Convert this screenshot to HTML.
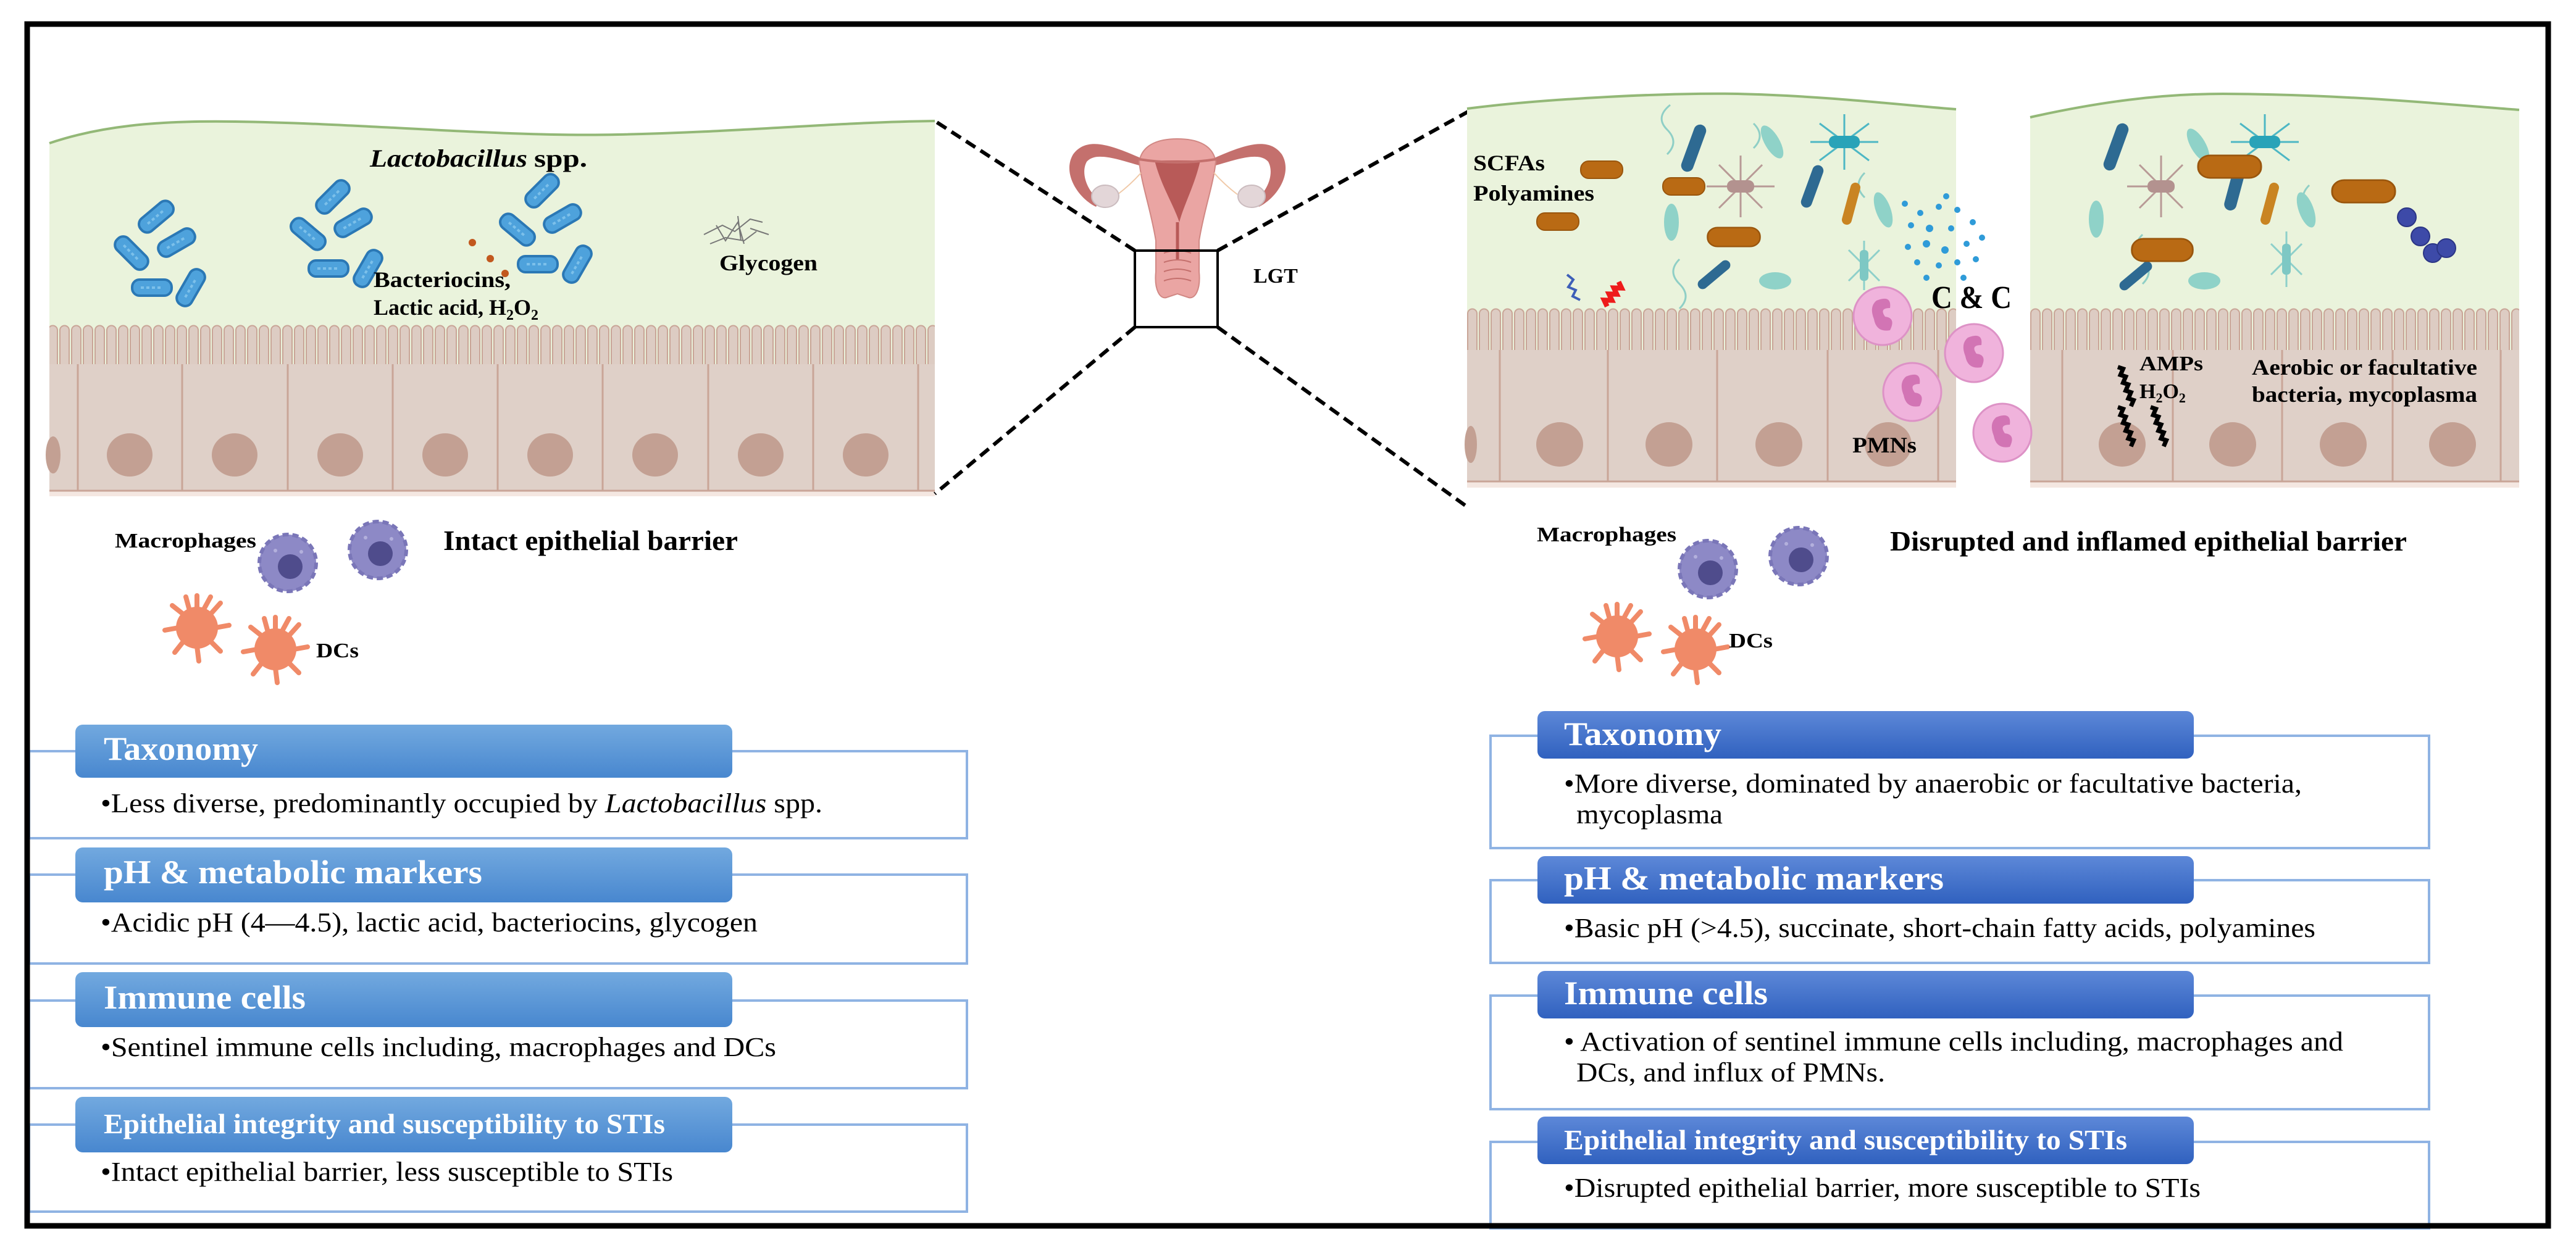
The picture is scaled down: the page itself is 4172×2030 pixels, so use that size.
<!DOCTYPE html>
<html><head><meta charset="utf-8"><style>
html,body{margin:0;padding:0;background:#fff}
svg{display:block}
text{font-family:"Liberation Serif",serif}
</style></head><body>
<svg width="4172" height="2030" viewBox="0 0 4172 2030" xmlns="http://www.w3.org/2000/svg">
<defs>
<pattern id="vil" patternUnits="userSpaceOnUse" x="0" y="526" width="19" height="64">
<rect width="19" height="64" fill="#eaf3dc"/>
<path d="M2,66 V9 a7.5,7.5 0 0 1 15,0 V66" fill="#ddccc3" stroke="#c9a597" stroke-width="2"/>
</pattern>
<pattern id="vil2" patternUnits="userSpaceOnUse" x="0" y="499" width="19" height="68">
<rect width="19" height="68" fill="#eaf3dc"/>
<path d="M2,70 V9 a7.5,7.5 0 0 1 15,0 V70" fill="#ddccc3" stroke="#c9a597" stroke-width="2"/>
</pattern>
<linearGradient id="hl" x1="0" y1="0" x2="0" y2="1"><stop offset="0" stop-color="#72a9df"/><stop offset="1" stop-color="#4887cf"/></linearGradient>
<linearGradient id="hr" x1="0" y1="0" x2="0" y2="1"><stop offset="0" stop-color="#5d88d8"/><stop offset="1" stop-color="#3061bf"/></linearGradient>
<g id="lac"><rect x="-32" y="-13" width="64" height="26" rx="12" fill="#4ea2dc" stroke="#2b78b5" stroke-width="4"/><path d="M-18,0 h36" stroke="#7cc0ea" stroke-width="4" stroke-dasharray="5 4"/></g>
<g id="mac"><circle r="46" fill="#8d89c6" stroke="#7a76b8" stroke-width="6" stroke-dasharray="10 6"/><circle cx="4" cy="6" r="20" fill="#4f4c8c"/><circle cx="-20" cy="-20" r="3" fill="#b3b0dc"/><circle cx="22" cy="-18" r="3" fill="#b3b0dc"/></g>
<g id="dc"><g stroke="#f08a68" stroke-width="8" stroke-linecap="round" fill="none">
<path d="M0,-30 L0,-52 M21,-21 L38,-40 M30,0 L52,-4 M21,21 L38,38 M0,30 L3,54 M-21,21 L-36,40 M-30,0 L-52,4 M-21,-21 L-40,-36 M10,-28 L22,-50 M-12,-28 L-18,-50"/></g><circle r="34" fill="#f08a68"/></g>
<g id="pmn"><circle r="47" fill="#f0b3dc" stroke="#dd92c6" stroke-width="3"/><path d="M-10,-25 q25,-10 22,12 q-18,0 -8,14 q18,2 8,22 q-22,4 -26,-18 q-8,-20 4,-30z" fill="#d274b4"/></g>
<g id="oc"><rect x="-34" y="-14" width="68" height="28" rx="13" fill="#b96a14" stroke="#9a560d" stroke-width="2"/></g>
<g id="rod"><rect x="-10" y="-40" width="20" height="80" rx="10" fill="#2e6a92"/></g>
</defs>

<!-- frame -->
<rect x="44" y="39" width="4083" height="1947" fill="#fff" stroke="#000" stroke-width="9"/>

<!-- LEFT TISSUE -->
<path d="M80,232 C160,205 250,195 380,197 C600,200 800,222 1000,218 C1200,214 1350,198 1514,196 L1514,560 L80,560 Z" fill="#eaf3dc"/>
<path d="M80,232 C160,205 250,195 380,197 C600,200 800,222 1000,218 C1200,214 1350,198 1514,196" fill="none" stroke="#93b877" stroke-width="4"/>
<rect x="80" y="526" width="1434" height="66" fill="url(#vil)"/>
<rect x="80" y="590" width="1434" height="210" fill="#dfd0c8"/>
<rect x="80" y="796" width="1434" height="8" fill="#f4e7e1"/>
<g stroke="#c9a597" stroke-width="3" fill="none">
<path d="M80,795 H1514"/>
<path d="M126,590 V795 M295,590 V795 M466,590 V795 M636,590 V795 M806,590 V795 M976,590 V795 M1147,590 V795 M1317,590 V795 M1487,590 V795"/>
</g>
<g fill="#c3a093">
<ellipse cx="210" cy="737" rx="37" ry="35"/><ellipse cx="380" cy="737" rx="37" ry="35"/><ellipse cx="551" cy="737" rx="37" ry="35"/><ellipse cx="721" cy="737" rx="37" ry="35"/><ellipse cx="891" cy="737" rx="37" ry="35"/><ellipse cx="1061" cy="737" rx="37" ry="35"/><ellipse cx="1232" cy="737" rx="37" ry="35"/><ellipse cx="1402" cy="737" rx="37" ry="35"/><ellipse cx="86" cy="737" rx="12" ry="30"/>
</g>
<use href="#lac" transform="translate(253,351) rotate(-40)"/>
<use href="#lac" transform="translate(286,393) rotate(-30)"/>
<use href="#lac" transform="translate(213,410) rotate(45)"/>
<use href="#lac" transform="translate(246,466)"/>
<use href="#lac" transform="translate(309,466) rotate(-60)"/>
<use href="#lac" transform="translate(539,319) rotate(-45)"/>
<use href="#lac" transform="translate(572,361) rotate(-30)"/>
<use href="#lac" transform="translate(499,379) rotate(40)"/>
<use href="#lac" transform="translate(532,435)"/>
<use href="#lac" transform="translate(596,435) rotate(-60)"/>
<use href="#lac" transform="translate(878,309) rotate(-45)"/>
<use href="#lac" transform="translate(911,354) rotate(-30)"/>
<use href="#lac" transform="translate(838,372) rotate(40)"/>
<use href="#lac" transform="translate(871,428)"/>
<use href="#lac" transform="translate(935,428) rotate(-60)"/>
<g fill="#c2581e"><circle cx="765" cy="393" r="6"/><circle cx="794" cy="419" r="6"/><circle cx="818" cy="443" r="6"/></g>
<g stroke="#777" stroke-width="2" fill="none"><path d="M1140,380 l30,-15 l20,10 l25,-20 l20,5 M1150,395 l25,-10 l30,5 l20,-15 M1160,365 l15,25 l20,-30 l10,35 M1195,350 l5,40 M1215,370 l30,10"/></g>
<text x="599" y="270" font-size="40" font-style="italic" font-weight="bold" textLength="255" lengthAdjust="spacingAndGlyphs">Lactobacillus</text>
<text x="865" y="270" font-size="40" font-weight="bold" textLength="86" lengthAdjust="spacingAndGlyphs">spp.</text>
<text x="605" y="465" font-size="36" font-weight="bold" textLength="222" lengthAdjust="spacingAndGlyphs">Bacteriocins,</text>
<text x="605" y="510" font-size="36" font-weight="bold">Lactic acid, H<tspan font-size="24" dy="8">2</tspan><tspan dy="-8">O</tspan><tspan font-size="24" dy="8">2</tspan></text>
<text x="1165" y="438" font-size="36" font-weight="bold" textLength="159" lengthAdjust="spacingAndGlyphs">Glycogen</text>

<!-- left immune -->
<text x="186" y="887" font-size="34" font-weight="bold" textLength="229" lengthAdjust="spacingAndGlyphs">Macrophages</text>
<use href="#mac" transform="translate(466,912)"/>
<use href="#mac" transform="translate(612,891)"/>
<text x="718" y="891" font-size="46" font-weight="bold" textLength="477" lengthAdjust="spacingAndGlyphs">Intact epithelial barrier</text>
<use href="#dc" transform="translate(319,1017)"/>
<use href="#dc" transform="translate(446,1052)"/>
<text x="512" y="1065" font-size="34" font-weight="bold" textLength="69" lengthAdjust="spacingAndGlyphs">DCs</text>

<!-- uterus -->
<g>
<path d="M1852,258 C1800,235 1760,220 1738,250 C1720,280 1745,320 1775,335 L1782,325 C1760,310 1750,280 1760,262 C1775,245 1810,258 1852,270 Z" fill="#c4706d"/>
<path d="M1962,258 C2014,235 2054,220 2076,250 C2094,280 2069,320 2039,335 L2032,325 C2054,310 2064,280 2054,262 C2039,245 2004,258 1962,270 Z" fill="#c4706d"/>
<path d="M1845,262 C1850,232 1880,225 1907,225 C1934,225 1964,232 1969,262 C1965,300 1950,340 1942,390 L1942,440 C1945,470 1935,485 1925,482 L1907,476 L1889,482 C1879,485 1869,470 1872,440 L1872,390 C1864,340 1849,300 1845,262 Z" fill="#eaa5a3" stroke="#d18884" stroke-width="2"/>
<path d="M1870,260 L1944,260 C1935,300 1918,330 1910,360 C1900,330 1880,300 1870,260 Z" fill="#b85a58"/>
<path d="M1845,258 Q1907,268 1969,258" stroke="#c4706d" stroke-width="4" fill="none"/>
<path d="M1907,360 V420" stroke="#b85a58" stroke-width="5"/>
<path d="M1885,410 Q1907,402 1929,410 M1885,425 Q1907,417 1929,425 M1885,440 Q1907,432 1929,440 M1885,455 Q1907,447 1929,455" stroke="#c4706d" stroke-width="2" fill="none"/>
<path d="M1848,280 Q1830,300 1810,315 M1966,280 Q1984,300 2004,315" stroke="#f0c9a8" stroke-width="2" fill="none"/>
<ellipse cx="1790" cy="318" rx="22" ry="18" fill="#e3d6d8" stroke="#cbbcbf" stroke-width="2"/>
<ellipse cx="2027" cy="318" rx="22" ry="18" fill="#e3d6d8" stroke="#cbbcbf" stroke-width="2"/>
</g>
<rect x="1838" y="406" width="134" height="124" fill="none" stroke="#000" stroke-width="4"/>
<text x="2030" y="458" font-size="34" font-weight="bold">LGT</text>
<g stroke="#000" stroke-width="6" stroke-dasharray="18 10" fill="none">
<path d="M1838,406 L1514,196"/>
<path d="M1838,530 L1514,800"/>
<path d="M1972,406 L2381,179"/>
<path d="M1972,530 L2376,821"/>
</g>

<!-- RIGHT TISSUE A -->
<path d="M2376,176 C2500,160 2700,150 2814,152 C2950,155 3080,170 3168,177 L3168,520 L2376,520 Z" fill="#eaf3dc"/>
<path d="M2376,176 C2500,160 2700,150 2814,152 C2950,155 3080,170 3168,177" fill="none" stroke="#93b877" stroke-width="4"/>
<rect x="2376" y="499" width="792" height="70" fill="url(#vil2)"/>
<rect x="2376" y="567" width="792" height="216" fill="#dfd0c8"/>
<rect x="2376" y="780" width="792" height="10" fill="#f4e7e1"/>
<g stroke="#c9a597" stroke-width="3" fill="none"><path d="M2376,780 H3168 M2429,567 V780 M2604,567 V780 M2781,567 V780 M2960,567 V780 M3139,567 V780"/></g>
<g fill="#c3a093"><ellipse cx="2526" cy="720" rx="38" ry="36"/><ellipse cx="2703" cy="720" rx="38" ry="36"/><ellipse cx="2881" cy="720" rx="38" ry="36"/><ellipse cx="3058" cy="720" rx="38" ry="36"/><ellipse cx="2382" cy="720" rx="10" ry="30"/></g>
<!-- RIGHT TISSUE B -->
<path d="M3288,190 C3400,165 3500,152 3600,152 C3800,153 3950,168 4080,178 L4080,520 L3288,520 Z" fill="#eaf3dc"/>
<path d="M3288,190 C3400,165 3500,152 3600,152 C3800,153 3950,168 4080,178" fill="none" stroke="#93b877" stroke-width="4"/>
<rect x="3288" y="499" width="792" height="70" fill="url(#vil2)"/>
<rect x="3288" y="567" width="792" height="216" fill="#dfd0c8"/>
<rect x="3288" y="780" width="792" height="10" fill="#f4e7e1"/>
<g stroke="#c9a597" stroke-width="3" fill="none"><path d="M3288,780 H4080 M3340,567 V780 M3519,567 V780 M3696,567 V780 M3875,567 V780 M4050,567 V780"/></g>
<g fill="#c3a093"><ellipse cx="3437" cy="720" rx="38" ry="36"/><ellipse cx="3616" cy="720" rx="38" ry="36"/><ellipse cx="3795" cy="720" rx="38" ry="36"/><ellipse cx="3972" cy="720" rx="38" ry="36"/></g>

<!-- bacteria A -->
<g stroke="#8fcfc6" stroke-width="3" fill="none">
<path d="M2700,250 q20,-20 0,-40 q-20,-20 5,-40"/><path d="M2840,200 q20,20 0,40"/><path d="M2720,420 q-20,20 0,40 q20,20 0,40"/><path d="M3020,280 q-20,20 0,40"/>
</g>
<g fill="#8fd2c8"><ellipse cx="2870" cy="230" rx="12" ry="30" transform="rotate(-30 2870 230)"/><ellipse cx="2707" cy="360" rx="12" ry="30"/><ellipse cx="3050" cy="340" rx="12" ry="30" transform="rotate(-20 3050 340)"/><ellipse cx="2875" cy="455" rx="26" ry="14"/></g>
<g stroke="#4db7c4" stroke-width="3" fill="none"><path d="M2987,230 l-40,-30 M2987,230 l40,-30 M2987,230 l-40,30 M2987,230 l40,30 M2987,230 l0,-45 M2987,230 l0,45 M2987,230 l-55,0 M2987,230 l55,0"/></g>
<rect x="2962" y="220" width="50" height="20" rx="9" fill="#29a3b8"/>
<g stroke="#b89a96" stroke-width="3" fill="none"><path d="M2819,302 l-35,-35 M2819,302 l35,-35 M2819,302 l-35,35 M2819,302 l35,35 M2819,302 l0,-50 M2819,302 l0,50 M2819,302 l-55,0 M2819,302 l55,0"/></g>
<rect x="2797" y="292" width="44" height="20" rx="9" fill="#b3928f"/>
<g stroke="#8ed0ca" stroke-width="3" fill="none"><path d="M3019,430 l-25,-25 M3019,430 l25,-25 M3019,430 l-25,25 M3019,430 l25,25 M3019,430 l0,-40 M3019,430 l0,40"/></g>
<rect x="3012" y="405" width="14" height="50" rx="6" fill="#7ec8c4"/>
<use href="#oc" transform="translate(2594,275)"/>
<use href="#oc" transform="translate(2727,302)"/>
<use href="#oc" transform="translate(2523,359)"/>
<use href="#oc" transform="translate(2808,384) scale(1.25,1.1)"/>
<use href="#rod" transform="translate(2743,240) rotate(20)"/>
<use href="#rod" transform="translate(2935,302) rotate(20) scale(0.9)"/>
<use href="#rod" transform="translate(2776,445) rotate(50) scale(0.8)"/>
<rect x="2990" y="295" width="16" height="70" rx="8" fill="#c98422" transform="rotate(15 2998 330)"/>
<g fill="#2f9bd8"><circle cx="3085" cy="330" r="5"/><circle cx="3110" cy="345" r="5"/><circle cx="3140" cy="335" r="5"/><circle cx="3170" cy="340" r="5"/><circle cx="3095" cy="365" r="5"/><circle cx="3125" cy="370" r="6"/><circle cx="3160" cy="370" r="5"/><circle cx="3195" cy="360" r="5"/><circle cx="3090" cy="400" r="5"/><circle cx="3120" cy="395" r="6"/><circle cx="3150" cy="405" r="6"/><circle cx="3185" cy="395" r="5"/><circle cx="3210" cy="385" r="5"/><circle cx="3105" cy="425" r="5"/><circle cx="3140" cy="430" r="5"/><circle cx="3170" cy="425" r="5"/><circle cx="3200" cy="420" r="5"/><circle cx="3120" cy="450" r="5"/><circle cx="3180" cy="450" r="5"/><circle cx="3152" cy="318" r="5"/></g>
<path d="M2538,445 l10,8 l-8,12 l12,5 l-5,10 l12,6" stroke="#3e5fb8" stroke-width="4" fill="none"/>
<path d="M2613,455 l8,8 -12,4 8,8 -12,4 8,8 -12,4 8,8" stroke="#ee1b1b" stroke-width="8" fill="none" transform="rotate(20 2613 480)"/>
<!-- bacteria B -->
<g stroke="#8fcfc6" stroke-width="3" fill="none"><path d="M3470,380 q-20,20 0,40 q20,20 0,40"/><path d="M3740,300 q-20,20 0,40"/></g>
<g fill="#8fd2c8"><ellipse cx="3560" cy="235" rx="12" ry="30" transform="rotate(-30 3560 235)"/><ellipse cx="3395" cy="355" rx="12" ry="30"/><ellipse cx="3735" cy="340" rx="12" ry="30" transform="rotate(-20 3735 340)"/><ellipse cx="3570" cy="455" rx="26" ry="14"/></g>
<g stroke="#4db7c4" stroke-width="3" fill="none"><path d="M3668,230 l-40,-30 M3668,230 l40,-30 M3668,230 l-40,30 M3668,230 l40,30 M3668,230 l0,-45 M3668,230 l-55,0 M3668,230 l55,0"/></g>
<rect x="3643" y="220" width="50" height="20" rx="9" fill="#29a3b8"/>
<g stroke="#b89a96" stroke-width="3" fill="none"><path d="M3500,302 l-35,-35 M3500,302 l35,-35 M3500,302 l-35,35 M3500,302 l35,35 M3500,302 l0,-50 M3500,302 l0,50 M3500,302 l-55,0"/></g>
<rect x="3478" y="292" width="44" height="20" rx="9" fill="#b3928f"/>
<g stroke="#8ed0ca" stroke-width="3" fill="none"><path d="M3703,420 l-25,-25 M3703,420 l25,-25 M3703,420 l-25,25 M3703,420 l25,25 M3703,420 l0,-45 M3703,420 l0,45"/></g>
<rect x="3696" y="395" width="14" height="50" rx="6" fill="#7ec8c4"/>
<use href="#rod" transform="translate(3427,238) rotate(20)"/>
<use href="#rod" transform="translate(3620,302) rotate(15)"/>
<use href="#rod" transform="translate(3459,447) rotate(50) scale(0.8)"/>
<rect x="3668" y="295" width="16" height="70" rx="8" fill="#c98422" transform="rotate(15 3676 330)"/>
<use href="#oc" transform="translate(3611,270) scale(1.5,1.3)"/>
<use href="#oc" transform="translate(3828,310) scale(1.5,1.3)"/>
<use href="#oc" transform="translate(3502,405) scale(1.45,1.3)"/>
<g fill="#3d4aa8" stroke="#2b3585" stroke-width="2"><circle cx="3898" cy="352" r="15"/><circle cx="3920" cy="383" r="15"/><circle cx="3940" cy="410" r="15"/><circle cx="3962" cy="402" r="15"/></g>
<g stroke="#000" stroke-width="7" fill="none">
<path d="M3405,605 l8,-4 4,10 8,-4 4,10 8,-4 4,10 8,-4 4,10 8,-4 4,10" transform="rotate(45 3430 630)"/>
<path d="M3405,670 l8,-4 4,10 8,-4 4,10 8,-4 4,10 8,-4 4,10 8,-4 4,10" transform="rotate(45 3430 695)"/>
<path d="M3458,670 l8,-4 4,10 8,-4 4,10 8,-4 4,10 8,-4 4,10 8,-4 4,10" transform="rotate(45 3483 695)"/>
</g>
<!-- PMNs -->
<use href="#pmn" transform="translate(3049,512)"/>
<use href="#pmn" transform="translate(3197,572)"/>
<use href="#pmn" transform="translate(3097,635)"/>
<use href="#pmn" transform="translate(3243,701)"/>
<text x="2386" y="276" font-size="36" font-weight="bold" textLength="116" lengthAdjust="spacingAndGlyphs">SCFAs</text>
<text x="2386" y="325" font-size="36" font-weight="bold" textLength="196" lengthAdjust="spacingAndGlyphs">Polyamines</text>
<text x="3128" y="499" font-size="52" font-weight="bold" textLength="130" lengthAdjust="spacingAndGlyphs">C &amp; C</text>
<text x="3000" y="733" font-size="36" font-weight="bold" textLength="104" lengthAdjust="spacingAndGlyphs">PMNs</text>
<text x="3465" y="600" font-size="34" font-weight="bold" textLength="103" lengthAdjust="spacingAndGlyphs">AMPs</text>
<text x="3465" y="645" font-size="34" font-weight="bold">H<tspan font-size="22" dy="7">2</tspan><tspan dy="-7">O</tspan><tspan font-size="22" dy="7">2</tspan></text>
<text x="3647" y="607" font-size="36" font-weight="bold" textLength="365" lengthAdjust="spacingAndGlyphs">Aerobic or facultative</text>
<text x="3647" y="651" font-size="36" font-weight="bold" textLength="365" lengthAdjust="spacingAndGlyphs">bacteria, mycoplasma</text>

<!-- right immune -->
<text x="2489" y="877" font-size="34" font-weight="bold" textLength="226" lengthAdjust="spacingAndGlyphs">Macrophages</text>
<use href="#mac" transform="translate(2766,922)"/>
<use href="#mac" transform="translate(2913,901)"/>
<text x="3061" y="892" font-size="46" font-weight="bold" textLength="837" lengthAdjust="spacingAndGlyphs">Disrupted and inflamed epithelial barrier</text>
<use href="#dc" transform="translate(2619,1031)"/>
<use href="#dc" transform="translate(2746,1052)"/>
<text x="2800" y="1049" font-size="34" font-weight="bold" textLength="71" lengthAdjust="spacingAndGlyphs">DCs</text>

<!-- LEFT BOXES -->
<g fill="#fff" stroke="#8fb3e3" stroke-width="4">
<rect x="47" y="1217" width="1519" height="141"/>
<rect x="47" y="1417" width="1519" height="144"/>
<rect x="47" y="1621" width="1519" height="142"/>
<rect x="47" y="1822" width="1519" height="141"/>
</g>
<g fill="url(#hl)">
<rect x="122" y="1174" width="1064" height="86" rx="12"/>
<rect x="122" y="1373" width="1064" height="89" rx="12"/>
<rect x="122" y="1575" width="1064" height="89" rx="12"/>
<rect x="122" y="1777" width="1064" height="90" rx="12"/>
</g>
<g fill="#fff" font-weight="bold">
<text x="168" y="1231" font-size="54" textLength="250" lengthAdjust="spacingAndGlyphs">Taxonomy</text>
<text x="168" y="1431" font-size="54" textLength="613" lengthAdjust="spacingAndGlyphs">pH &amp; metabolic markers</text>
<text x="168" y="1634" font-size="54" textLength="327" lengthAdjust="spacingAndGlyphs">Immune cells</text>
<text x="168" y="1836" font-size="46" textLength="909" lengthAdjust="spacingAndGlyphs">Epithelial integrity and susceptibility to STIs</text>
</g>
<g font-size="44" fill="#000">
<text x="163" y="1316" textLength="1169" lengthAdjust="spacingAndGlyphs">•Less diverse, predominantly occupied by <tspan font-style="italic">Lactobacillus</tspan> spp.</text>
<text x="163" y="1509" textLength="1064" lengthAdjust="spacingAndGlyphs">•Acidic pH (4—4.5), lactic acid, bacteriocins, glycogen</text>
<text x="163" y="1711" textLength="1094" lengthAdjust="spacingAndGlyphs">•Sentinel immune cells including, macrophages and DCs</text>
<text x="163" y="1913" textLength="927" lengthAdjust="spacingAndGlyphs">•Intact epithelial barrier, less susceptible to STIs</text>
</g>

<!-- RIGHT BOXES -->
<g fill="#fff" stroke="#8fb3e3" stroke-width="4">
<rect x="2414" y="1192" width="1520" height="182"/>
<rect x="2414" y="1426" width="1520" height="134"/>
<rect x="2414" y="1613" width="1520" height="184"/>
<rect x="2414" y="1850" width="1520" height="140"/>
</g>
<g fill="url(#hr)">
<rect x="2490" y="1152" width="1063" height="77" rx="12"/>
<rect x="2490" y="1387" width="1063" height="77" rx="12"/>
<rect x="2490" y="1573" width="1063" height="77" rx="12"/>
<rect x="2490" y="1809" width="1063" height="77" rx="12"/>
</g>
<g fill="#fff" font-weight="bold">
<text x="2533" y="1207" font-size="54" textLength="255" lengthAdjust="spacingAndGlyphs">Taxonomy</text>
<text x="2533" y="1441" font-size="54" textLength="615" lengthAdjust="spacingAndGlyphs">pH &amp; metabolic markers</text>
<text x="2533" y="1627" font-size="54" textLength="330" lengthAdjust="spacingAndGlyphs">Immune cells</text>
<text x="2533" y="1862" font-size="46" textLength="912" lengthAdjust="spacingAndGlyphs">Epithelial integrity and susceptibility to STIs</text>
</g>
<g font-size="44" fill="#000">
<text x="2533" y="1284" textLength="1195" lengthAdjust="spacingAndGlyphs">•More diverse, dominated by anaerobic or facultative bacteria,</text>
<text x="2553" y="1334" textLength="237" lengthAdjust="spacingAndGlyphs">mycoplasma</text>
<text x="2533" y="1518" textLength="1217" lengthAdjust="spacingAndGlyphs">•Basic pH (&gt;4.5), succinate, short-chain fatty acids, polyamines</text>
<text x="2533" y="1702" textLength="1262" lengthAdjust="spacingAndGlyphs">• Activation of sentinel immune cells including, macrophages and</text>
<text x="2553" y="1752" textLength="500" lengthAdjust="spacingAndGlyphs">DCs, and influx of PMNs.</text>
<text x="2533" y="1939" textLength="1031" lengthAdjust="spacingAndGlyphs">•Disrupted epithelial barrier, more susceptible to STIs</text>
</g>
<!-- frame redraw on top -->
<rect x="44" y="39" width="4083" height="1947" fill="none" stroke="#000" stroke-width="9"/>
</svg>
</body></html>
